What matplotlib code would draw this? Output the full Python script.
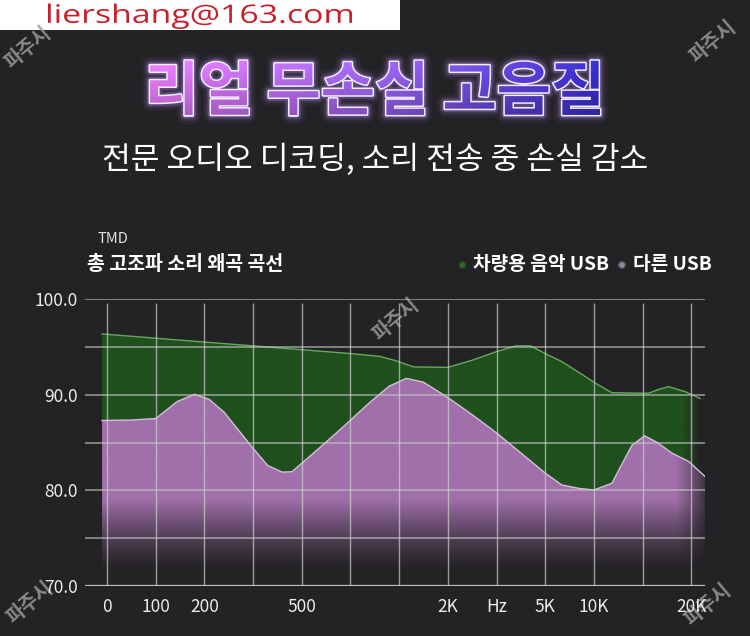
import numpy as np
import matplotlib
matplotlib.use("Agg")
import matplotlib.pyplot as plt
from matplotlib.patches import PathPatch, Rectangle, Circle, Polygon
from matplotlib.textpath import TextPath
from matplotlib.font_manager import FontProperties
from matplotlib.transforms import Affine2D

plt.rcParams['font.family'] = ['Noto Sans CJK KR', 'DejaVu Sans']

BG = '#232224'
W, H = 750, 636

# x axis is just the grid columns (0..12), labels only on some of them
x_labels = ["0", "100", "200", "", "500", "", "", "2K", "Hz", "5K", "10K", "", "20K"]
y_ticks = [70, 75, 80, 85, 90, 95, 100]
y_labels = ["70.0", "", "80.0", "", "90.0", "", "100.0"]

# 차량용 음악 USB (green)
car_x = [-0.1, 1.0, 2.0, 3.0, 4.0, 5.0, 5.6, 5.9, 6.3, 7.0, 7.5, 8.0, 8.4,
         8.7, 9.0, 9.34, 9.7, 10.03, 10.37, 11.12, 11.3, 11.53, 11.88, 12.18]
car_y = [96.35, 95.9, 95.5, 95.1, 94.7, 94.3, 94.0, 93.6, 92.9, 92.85, 93.6,
         94.5, 95.1, 95.1, 94.3, 93.45, 92.3, 91.2, 90.2, 90.15, 90.5, 90.84,
         90.3, 89.6]

# 다른 USB (purple)
other_x = [-0.1, 0.5, 1.0, 1.2, 1.45, 1.8, 2.1, 2.4, 2.7, 3.0, 3.3, 3.6, 3.8,
           4.2, 4.8, 5.4, 5.8, 6.15, 6.5, 7.0, 7.5, 8.0, 8.5, 9.0, 9.34, 9.7,
           10.0, 10.37, 10.58, 10.78, 11.04, 11.3, 11.6, 11.95, 12.29]
other_y = [87.3, 87.35, 87.5, 88.3, 89.3, 90.04, 89.5, 88.2, 86.3, 84.4, 82.6,
           81.9, 81.95, 83.7, 86.4, 89.2, 90.9, 91.7, 91.3, 89.7, 87.9, 86.0,
           83.9, 81.8, 80.56, 80.2, 80.04, 80.74, 82.8, 84.7, 85.7, 85.0, 83.9,
           83.0, 81.4]

XMIN, XMAX = -0.45, 12.28
YMIN, YMAX = 70, 100


def px_axes(fig, x0, y0, x1, y1):
    """axes placed by pixel box (y measured from the top)"""
    return fig.add_axes([x0 / W, 1 - y1 / H, (x1 - x0) / W, (y1 - y0) / H])


def area_path(xs, ys, base):
    verts = list(zip(xs, ys)) + [(xs[-1], base), (xs[0], base)]
    return Polygon(verts, closed=True)


def gradient_fill(ax, xs, ys, rgb, alpha_fn, z):
    # image over the whole plot, clipped to the area under the curve
    gx = np.linspace(XMIN, XMAX, 400)
    gy = np.linspace(YMIN, YMAX, 300)
    X, Y = np.meshgrid(gx, gy)
    img = np.zeros((len(gy), len(gx), 4))
    img[..., :3] = rgb
    img[..., 3] = alpha_fn(X, Y)
    im = ax.imshow(img, extent=[XMIN, XMAX, YMIN, YMAX], origin='lower',
                   aspect='auto', zorder=z, interpolation='bilinear')
    clip = area_path(xs, ys, YMIN)
    clip.set_facecolor('none')
    clip.set_edgecolor('none')
    ax.add_patch(clip)
    im.set_clip_path(clip)


def boxed_text_path(s, x0, x1, y0, y1, prop):
    """text outline stretched into a pixel box (y grows downwards)"""
    tp = TextPath((0, 0), s, size=100, prop=prop)
    bb = tp.get_extents()
    tr = (Affine2D().translate(-bb.x0, -bb.y1)
          .scale((x1 - x0) / bb.width, -(y1 - y0) / bb.height).translate(x0, y0))
    return tr.transform_path(tp)


def gradient_text(ax, s, cx, cy, width, prop):
    tp = TextPath((0, 0), s, size=100, prop=prop)
    bb = tp.get_extents()
    k = width / bb.width
    tr = (Affine2D().translate(-bb.x0 - bb.width / 2, -bb.y0 - bb.height / 2)
          .scale(k, -k).translate(cx, cy))
    path = tr.transform_path(tp)
    # soft purple glow + thin white outline
    for lw, a in [(12, 0.06), (8, 0.12), (5, 0.25)]:
        ax.add_patch(PathPatch(path, facecolor='none', edgecolor='#b48cff',
                               lw=lw, alpha=a, joinstyle='round', zorder=3))
    ax.add_patch(PathPatch(path, facecolor='none', edgecolor='#f4ecff',
                           lw=2.2, joinstyle='round', zorder=4))
    ext = path.get_extents()
    t = np.linspace(0, 1, 300)
    v = np.linspace(0, 1, 60)
    T, V = np.meshgrid(t, v)
    left = np.array([222, 118, 236]) / 255
    mid = np.array([150, 96, 228]) / 255
    right = np.array([52, 44, 196]) / 255
    img = np.zeros((60, 300, 3))
    for c in range(3):
        col = np.where(T < 0.5, left[c] + (mid[c] - left[c]) * T * 2,
                       mid[c] + (right[c] - mid[c]) * (T - 0.5) * 2)
        img[..., c] = np.clip(col * (1.12 - 0.3 * V), 0, 1)
    im = ax.imshow(img, extent=[ext.x0, ext.x1, ext.y1, ext.y0], origin='upper',
                   aspect='auto', zorder=5, interpolation='bilinear')
    clip = PathPatch(path, facecolor='none', edgecolor='none')
    ax.add_patch(clip)
    im.set_clip_path(clip)


fig = plt.figure(figsize=(W / 100, H / 100), dpi=100, facecolor=BG)

# background layer in pixel coordinates for all the header text
bg = fig.add_axes([0, 0, 1, 1])
bg.set_facecolor(BG)
bg.axis('off')

# e-mail banner (the text is squeezed into the box as in the original)
bg.add_patch(Rectangle((0, 0), 400, 29.5, facecolor='white', edgecolor='none', zorder=2))
mail = boxed_text_path("liershang@163.com", 48, 352, 3.5, 29,
                       FontProperties(family=['Open Sans', 'DejaVu Sans']))
bg.add_patch(PathPatch(mail, facecolor='#c8202a', edgecolor='none', zorder=3))

gradient_text(bg, "리얼 무손실 고음질", 375, 88, 450,
              FontProperties(family='Noto Sans CJK KR', weight='black'))

bg.text(375, 160, "전문 오디오 디코딩, 소리 전송 중 손실 감소", color='white',
        fontsize=22.5, ha='center', va='center')

bg.text(98, 239, "TMD", color='#e6e6e6', fontsize=10.5, ha='left', va='center')
bg.text(87, 264, "총 고조파 소리 왜곡 곡선", color='white', fontsize=14,
        fontweight='bold', ha='left', va='center')

# legend
bg.add_patch(Circle((462.5, 265), 4, facecolor='#2f6a2b', edgecolor='none', alpha=0.5))
bg.add_patch(Circle((462.5, 265), 2.6, facecolor='#2f6a2b', edgecolor='none'))
bg.text(473, 265, "차량용 음악 USB", color='white', fontsize=13.8,
        fontweight='bold', ha='left', va='center')
bg.add_patch(Circle((622, 265), 4, facecolor='#8f7f96', edgecolor='none', alpha=0.5))
bg.add_patch(Circle((622, 265), 2.6, facecolor='#9a88a0', edgecolor='none'))
bg.text(633, 265, "다른 USB", color='white', fontsize=13.8,
        fontweight='bold', ha='left', va='center')

# watermarks
for wx, wy in [(28, 48), (713, 42), (396, 320), (30, 603), (708, 605)]:
    bg.text(wx, wy, "파주시", color='#9a9a9a', fontsize=14, fontweight='bold',
            rotation=40, ha='center', va='center', alpha=0.85, zorder=10)

bg.set_xlim(0, W)
bg.set_ylim(H, 0)

# ---- chart ----
ax = px_axes(fig, 85, 299, 705, 586)
ax.set_facecolor('none')

# green area
gradient_fill(ax, car_x, car_y, np.array([31, 80, 29]) / 255,
              lambda X, Y: np.clip((12.22 - X) / 0.4, 0, 1), 1)
ax.plot(car_x, car_y, color='#66a85c', lw=1.0, zorder=5)

# block out green under the purple curve so the purple fade goes to dark
under = area_path(other_x, other_y, YMIN)
under.set_facecolor(BG)
under.set_edgecolor('none')
under.set_zorder(2)
ax.add_patch(under)


def purple_alpha(X, Y):
    a = np.clip((Y - 71.5) / 7.5, 0, 1) ** 1.3
    a = a * np.clip((12.4 - X) / 0.7, 0, 1) ** 0.8
    return a


gradient_fill(ax, other_x, other_y, np.array([160, 112, 170]) / 255, purple_alpha, 3)
ax.plot(other_x, other_y, color='#d8bcdc', lw=1.0, zorder=5)

# grid drawn over the areas
ax.hlines(y_ticks[1:], XMIN, XMAX, color='#c4c4c4', lw=1.1, alpha=0.75, zorder=6)
ax.hlines(YMIN, XMIN, XMAX, color='#bdbdbd', lw=1.6, zorder=6)
ax.vlines(range(len(x_labels)), YMIN, 99.55, color='#d0d0d0', lw=1.0, alpha=0.7, zorder=6)

ax.set_xlim(XMIN, XMAX)
ax.set_ylim(YMIN, YMAX)
ax.set_xticks(range(len(x_labels)), x_labels)
ax.set_yticks(y_ticks, y_labels)
ax.tick_params(length=0, colors='#ececec', labelsize=12.5)
ax.tick_params(axis='x', pad=9)
ax.tick_params(axis='y', pad=5)
for s in ax.spines.values():
    s.set_visible(False)

fig.savefig("out.png", dpi=100, facecolor=BG)
